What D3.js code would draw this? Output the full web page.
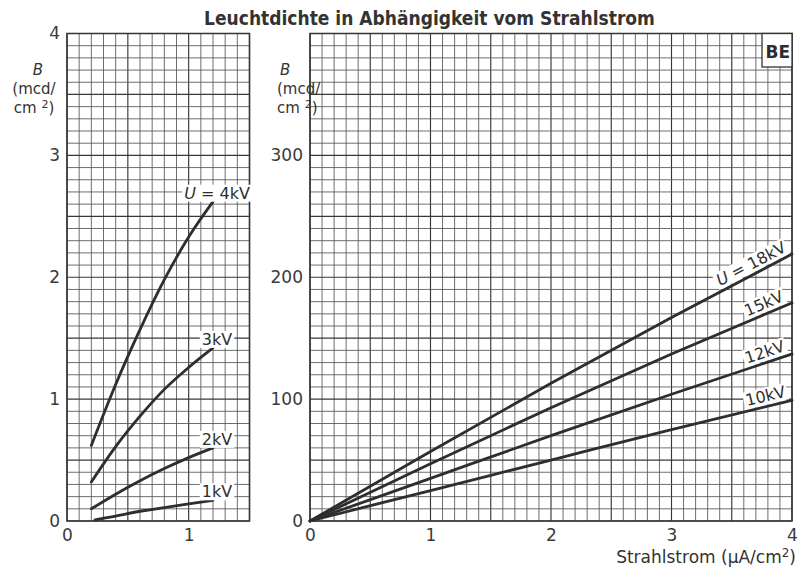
<!DOCTYPE html>
<html><head><meta charset="utf-8">
<script src="https://cdn.jsdelivr.net/npm/d3@7"></script>
<style>body{margin:0;background:#fff}svg{display:block}</style>
</head><body><svg id="c" width="801" height="571"></svg>
<script>
// ---------- data ----------
const titleText = "Leuchtdichte in Abhängigkeit vom Strahlstrom";
const cornerTag = "BE";

// left panel (low voltages), x = beam current (µA/cm²), y = B (mcd/cm²)
const leftX    = [0.20, 0.40, 0.60, 0.80, 1.00, 1.20];
const left1kVX = [0.23, 0.40, 0.60, 0.80, 1.00, 1.20];
const left4kV  = [0.62, 1.12, 1.57, 1.98, 2.33, 2.62];
const left3kV  = [0.32, 0.61, 0.86, 1.08, 1.26, 1.42];
const left2kV  = [0.10, 0.22, 0.33, 0.43, 0.52, 0.60];
const left1kV  = [0.01, 0.04, 0.08, 0.11, 0.14, 0.17];
const leftLabels = ["4kV", "3kV", "2kV", "1kV"];

// right panel (high voltages)
const rightX    = [0, 1, 2, 3, 4];
const right18kV = [0, 57, 113, 167, 219];
const right15kV = [0, 47, 93, 137, 179];
const right12kV = [0, 35, 70, 104, 137];
const right10kV = [0, 25, 50, 75, 99];
const rightLabels = ["18kV", "15kV", "12kV", "10kV"];

const leftXTicks  = [0, 1];
const leftYTicks  = [0, 1, 2, 3, 4];
const rightXTicks = [0, 1, 2, 3, 4];
const rightYTicks = [0, 100, 200, 300];
const xAxisTitle = "Strahlstrom (µA/cm";
const yAxisLines = ["B", "(mcd/", "cm "];

// ---------- layout ----------
const FONT = "'DejaVu Sans', sans-serif";
const INK = "#2e2e2e";
const svg = d3.select("#c");
svg.append("rect").attr("width", 801).attr("height", 571).attr("fill", "#fff");

const xL = d3.scaleLinear().domain([0, 1.5]).range([67, 249.5]);
const yL = d3.scaleLinear().domain([0, 4]).range([521, 33.5]);
const xR = d3.scaleLinear().domain([0, 4]).range([310, 792]);
const yR = d3.scaleLinear().domain([0, 400]).range([521, 33.5]);

function grid(g, x, y, xStep, yStep) {
  const [x0, x1] = x.domain(), [y0, y1] = y.domain();
  const nx = Math.round((x1 - x0) / xStep), ny = Math.round((y1 - y0) / yStep);
  d3.range(0, nx + 1).forEach(i => {
    const major = i % 5 === 0;
    g.append("line").attr("x1", x(x0 + i * xStep)).attr("x2", x(x0 + i * xStep))
      .attr("y1", y(y0)).attr("y2", y(y1))
      .attr("stroke", major ? "#383838" : "#555").attr("stroke-width", major ? 1.15 : 0.85);
  });
  d3.range(0, ny + 1).forEach(i => {
    const major = i % 5 === 0;
    g.append("line").attr("y1", y(y0 + i * yStep)).attr("y2", y(y0 + i * yStep))
      .attr("x1", x(x0)).attr("x2", x(x1))
      .attr("stroke", major ? "#383838" : "#555").attr("stroke-width", major ? 1.15 : 0.85);
  });
  g.append("rect").attr("x", x(x0)).attr("y", y(y1))
    .attr("width", x(x1) - x(x0)).attr("height", y(y0) - y(y1))
    .attr("fill", "none").attr("stroke", "#333").attr("stroke-width", 1.5);
}

const gL = svg.append("g"), gR = svg.append("g");
grid(gL, xL, yL, 0.1, 0.1);
grid(gR, xR, yR, 0.1, 10);

// corner tag box
const tagW = 30, tagH = 33.5;
gR.append("rect").attr("x", xR(4) - tagW).attr("y", yR(400))
  .attr("width", tagW).attr("height", tagH)
  .attr("fill", "#fff").attr("stroke", "#333").attr("stroke-width", 1.3);
gR.append("text").attr("x", xR(4) - 2).attr("y", yR(400) + 24)
  .attr("text-anchor", "end").attr("font-family", FONT).attr("font-weight", "bold")
  .attr("font-size", 17).attr("fill", INK).text(cornerTag);

// axes
function styleAxis(sel) {
  sel.select(".domain").remove();
  sel.selectAll("text").attr("font-family", FONT).attr("font-size", 17).attr("fill", "#3a3a3a");
}
svg.append("g").attr("transform", `translate(${xL(0)},0)`)
  .call(d3.axisLeft(yL).tickValues(leftYTicks).tickSize(0).tickPadding(7).tickFormat(d3.format("d")))
  .call(styleAxis);
svg.append("g").attr("transform", `translate(0,${yL(0)})`)
  .call(d3.axisBottom(xL).tickValues(leftXTicks).tickSize(0).tickPadding(8).tickFormat(d3.format("d")))
  .call(styleAxis);
svg.append("g").attr("transform", `translate(${xR(0)},0)`)
  .call(d3.axisLeft(yR).tickValues(rightYTicks).tickSize(0).tickPadding(7).tickFormat(d3.format("d")))
  .call(styleAxis);
svg.append("g").attr("transform", `translate(0,${yR(0)})`)
  .call(d3.axisBottom(xR).tickValues(rightXTicks).tickSize(0).tickPadding(8).tickFormat(d3.format("d")))
  .call(styleAxis);

// y axis titles
function yTitle(x, anchor, bx) {
  const t = svg.append("g").attr("font-family", FONT).attr("font-size", 15).attr("fill", "#333");
  t.append("text").attr("x", bx).attr("y", 75).attr("text-anchor", anchor)
    .attr("font-style", "italic").text(yAxisLines[0]);
  t.append("text").attr("x", x).attr("y", 94).attr("text-anchor", anchor).text(yAxisLines[1]);
  const c = t.append("text").attr("x", x).attr("y", 113).attr("text-anchor", anchor);
  c.append("tspan").text(yAxisLines[2]);
  c.append("tspan").attr("font-size", 11).attr("dy", -5).text("2");
  c.append("tspan").attr("dy", 5).text(")");
}
yTitle(34, "middle", 38);
yTitle(277, "start", 280);

// x axis title
const xt = svg.append("text").attr("x", 796).attr("y", 563).attr("text-anchor", "end")
  .attr("font-family", FONT).attr("font-size", 17).attr("fill", "#333");
xt.append("tspan").text(xAxisTitle);
xt.append("tspan").attr("font-size", 12).attr("dy", -6).text("2");
xt.append("tspan").attr("dy", 6).text(")");

// title
const title = svg.append("text").attr("x", (xL(0) + xR(4)) / 2).attr("y", 25)
  .attr("text-anchor", "middle").attr("font-family", FONT).attr("font-weight", "bold")
  .attr("font-stretch", "condensed")
  .attr("font-size", 18).attr("fill", "#333").text(titleText);
const tw = title.node().getComputedTextLength();
title.attr("font-size", Math.min(19, 18 * 458 / tw));

// curves
const line = (x, y) => d3.line().x(d => x(d[0])).y(d => y(d[1])).curve(d3.curveMonotoneX);
const leftSeries = [
  { xs: leftX, ys: left4kV, label: leftLabels[0], u: true },
  { xs: leftX, ys: left3kV, label: leftLabels[1] },
  { xs: leftX, ys: left2kV, label: leftLabels[2] },
  { xs: left1kVX, ys: left1kV, label: leftLabels[3] }
];
const rightSeries = [
  { xs: rightX, ys: right18kV, label: rightLabels[0], u: true, at: 3.70 },
  { xs: rightX, ys: right15kV, label: rightLabels[1], at: 3.80 },
  { xs: rightX, ys: right12kV, label: rightLabels[2], at: 3.80 },
  { xs: rightX, ys: right10kV, label: rightLabels[3], at: 3.80 }
];

function addText(g, s, x, y, anchor, size) {
  const t = g.append("text").attr("x", x).attr("y", y).attr("text-anchor", anchor)
    .attr("font-family", FONT).attr("font-size", size).attr("fill", INK);
  if (s.u) {
    t.append("tspan").attr("font-style", "italic").text("U");
    t.append("tspan").text(" = " + s.label);
  } else t.text(s.label);
  const b = t.node().getBBox();
  g.insert("rect", "text").attr("x", b.x - 2).attr("y", b.y + 1)
    .attr("width", b.width + 4).attr("height", b.height - 2).attr("fill", "#fff");
  return t;
}

leftSeries.forEach(s => {
  const pts = s.xs.map((x, i) => [x, s.ys[i]]);
  gL.append("path").attr("d", line(xL, yL)(pts)).attr("fill", "none")
    .attr("stroke", INK).attr("stroke-width", 2.8).attr("stroke-linecap", "round");
  const last = pts[pts.length - 1];
  const lg = gL.append("g");
  addText(lg, s, xL(last[0]) + 4, yL(last[1]) - 3, "middle", 16);
});

function interp(xs, ys, xv) {
  for (let i = 0; i < xs.length - 1; i++) {
    if (xv >= xs[i] && xv <= xs[i + 1]) {
      const t = (xv - xs[i]) / (xs[i + 1] - xs[i]);
      return ys[i] + t * (ys[i + 1] - ys[i]);
    }
  }
  return ys[ys.length - 1];
}

rightSeries.forEach(s => {
  const pts = s.xs.map((x, i) => [x, s.ys[i]]);
  gR.append("path").attr("d", line(xR, yR)(pts)).attr("fill", "none")
    .attr("stroke", INK).attr("stroke-width", 2.8).attr("stroke-linecap", "round");
  const px = xR(s.at), py = yR(interp(s.xs, s.ys, s.at));
  const p1 = [xR(s.at - 0.2), yR(interp(s.xs, s.ys, s.at - 0.2))];
  const p2 = [xR(s.at + 0.2), yR(interp(s.xs, s.ys, s.at + 0.2))];
  const ang = Math.atan2(p2[1] - p1[1], p2[0] - p1[0]) * 180 / Math.PI;
  const lg = gR.append("g").attr("transform", `translate(${px},${py}) rotate(${ang})`);
  addText(lg, s, 0, -5, "middle", 16);
});
</script></body></html>
